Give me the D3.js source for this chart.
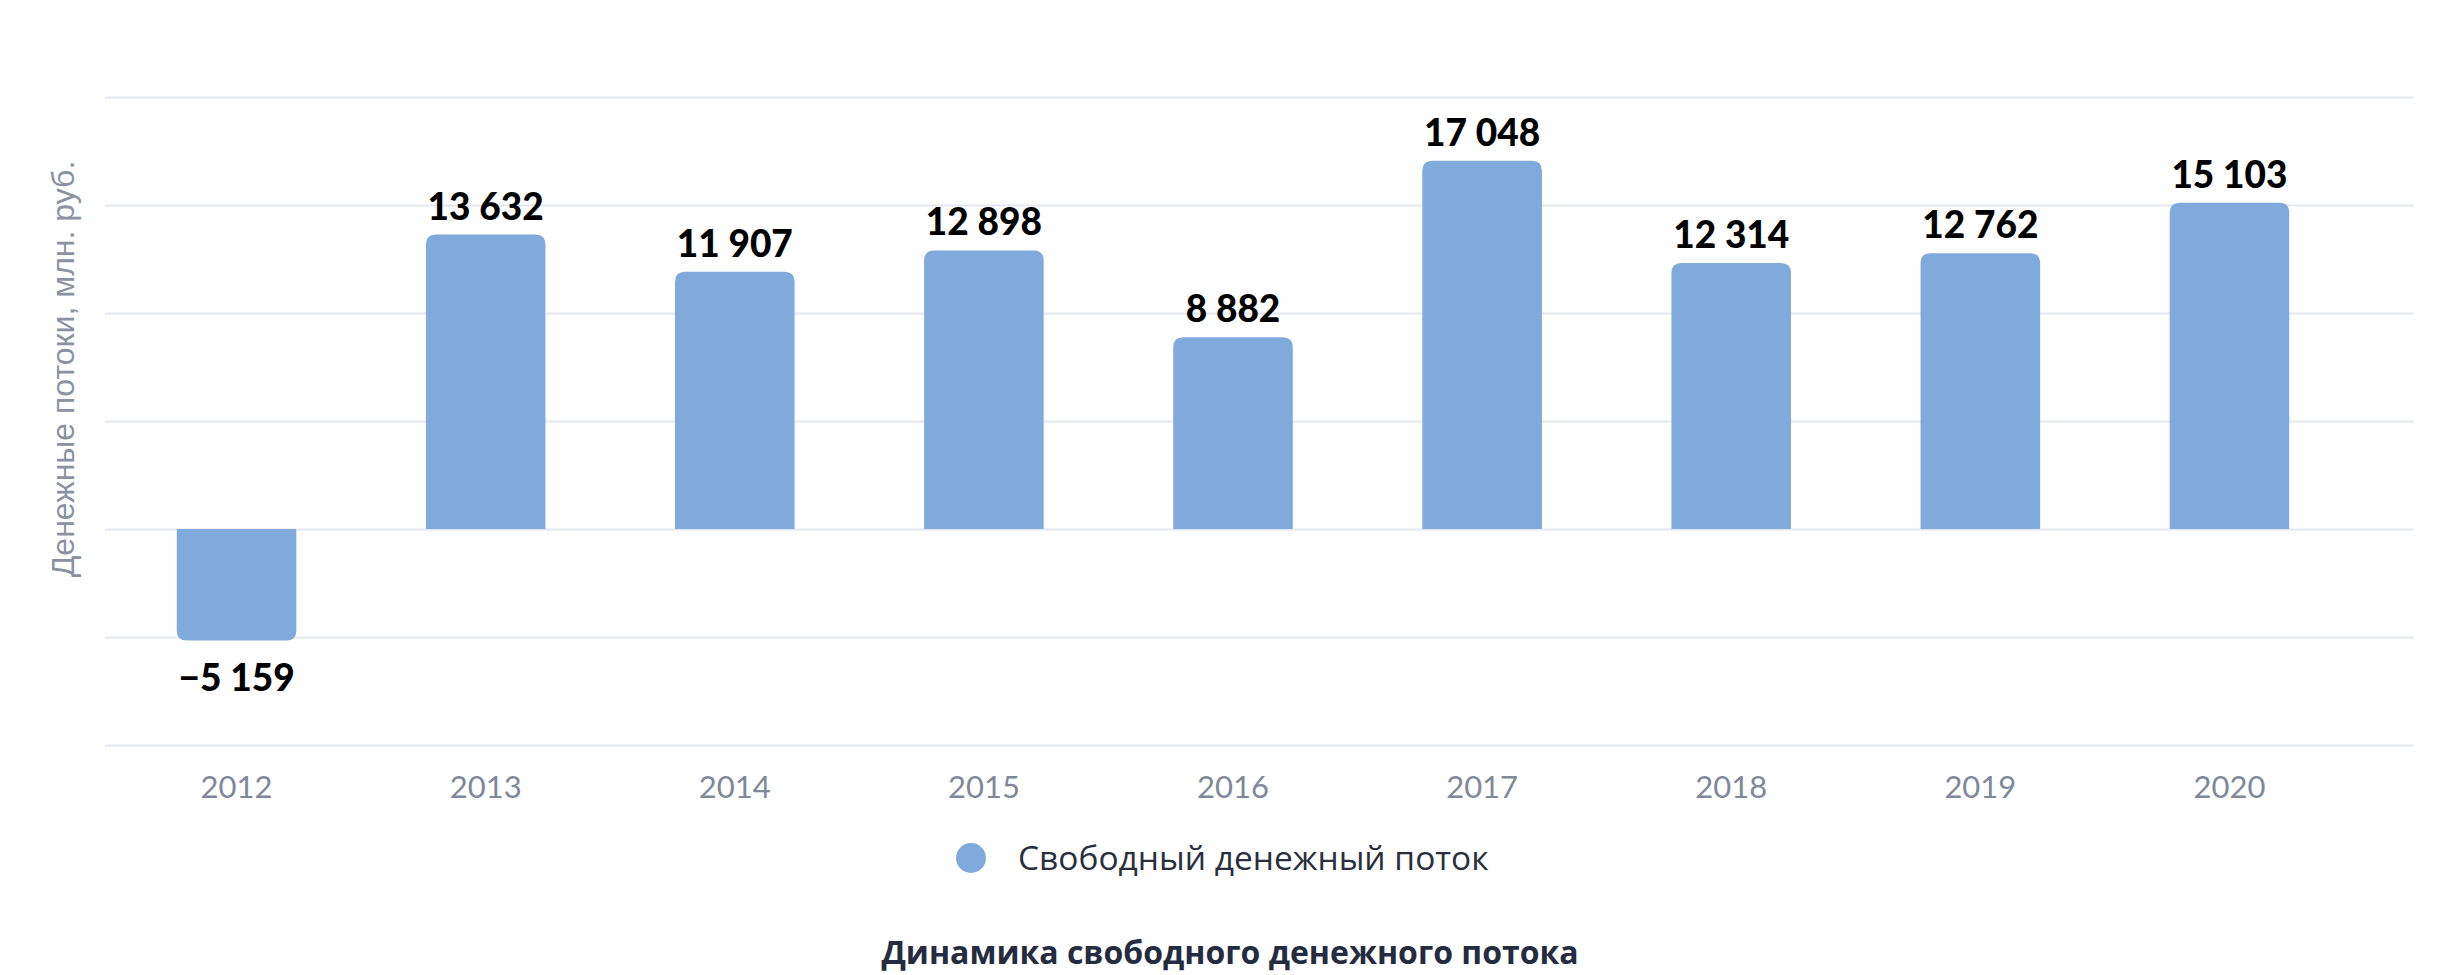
<!DOCTYPE html>
<html>
<head>
<meta charset="utf-8">
<script src="https://cdn.jsdelivr.net/npm/d3@7"></script>
<style>
  html, body { margin: 0; padding: 0; background: #fff; }
  svg { display: block; }
</style>
</head>
<body>
<div id="chart"></div>
<script>
// Data
var years = ["2012", "2013", "2014", "2015", "2016", "2017", "2018", "2019", "2020"];
var cashFlow = [-5159, 13632, 11907, 12898, 8882, 17048, 12314, 12762, 15103];
var gridTicks = [-10000, -5000, 0, 5000, 10000, 15000, 20000];
var seriesName = "Свободный денежный поток";
var yTitle = "Денежные потоки, млн. руб.";
var chartTitle = "Динамика свободного денежного потока";

var width = 2460, height = 975;
var barColor = "#80aadb";
var gridColor = "#e4e7ef";

var svg = d3.select("#chart").append("svg")
    .attr("width", width)
    .attr("height", height);

var x = d3.scaleBand()
    .domain(years)
    .range([112, 2354])
    .paddingInner(0.52)
    .paddingOuter(0.26);

var y = d3.scaleLinear()
    .domain([-10000, 20000])
    .range([745, 97]);

// grid lines
svg.append("g")
    .selectAll("line")
    .data(gridTicks)
  .enter().append("line")
    .attr("x1", 105)
    .attr("x2", 2414)
    .attr("y1", function(d){ return Math.round(y(d)) + 0.5; })
    .attr("y2", function(d){ return Math.round(y(d)) + 0.5; })
    .attr("stroke", gridColor)
    .attr("stroke-width", 2);

// bars with rounded outer end
var r = 10;
function barPath(d, i){
  var x0 = x(years[i]), w = x.bandwidth();
  var y0 = y(0), y1 = y(d);
  var s = d >= 0 ? 1 : -1;
  return "M" + x0 + "," + y0 +
    "V" + (y1 + s * r) +
    "Q" + x0 + "," + y1 + " " + (x0 + r) + "," + y1 +
    "H" + (x0 + w - r) +
    "Q" + (x0 + w) + "," + y1 + " " + (x0 + w) + "," + (y1 + s * r) +
    "V" + y0 + "Z";
}

svg.append("g")
    .selectAll("path")
    .data(cashFlow)
  .enter().append("path")
    .attr("d", barPath)
    .attr("fill", barColor);

// value labels
var fmt = function(v){
  var s = d3.format(",")(Math.abs(v)).replace(/,/g, " ");
  return (v < 0 ? "\u2212" : "") + s;
};

svg.append("g")
    .selectAll("text")
    .data(cashFlow)
  .enter().append("text")
    .attr("x", function(d, i){ return x(years[i]) + x.bandwidth() / 2; })
    .attr("y", function(d){ return d >= 0 ? y(d) - 15 : y(d) + 51; })
    .attr("text-anchor", "middle")
    .style("font-family", "Lato, 'Open Sans', sans-serif")
    .style("font-weight", "900")
    .style("font-size", "37px")
    .style("fill", "#000")
    .text(fmt);

// x axis labels
var xAxis = d3.axisBottom(x).tickSize(0).tickPadding(0);
var gx = svg.append("g")
    .attr("transform", "translate(0,798)")
    .call(xAxis);
gx.select(".domain").remove();
gx.selectAll("text")
    .attr("dy", 0)
    .style("font-family", "Lato, 'Open Sans', sans-serif")
    .style("font-size", "31px")
    .style("fill", "#7f8898");

// y axis title
svg.append("text")
    .attr("transform", "translate(74,369) rotate(-90)")
    .attr("text-anchor", "middle")
    .style("font-family", "'Liberation Sans', Arial, sans-serif")
    .style("font-size", "32px")
    .style("fill", "#8a929f")
    .text(yTitle);

// legend
var legend = svg.append("g").attr("transform", "translate(971,858)");
legend.append("circle")
    .attr("r", 15)
    .attr("fill", barColor);
legend.append("text")
    .attr("x", 47)
    .attr("y", 12)
    .style("font-family", "'Open Sans', sans-serif")
    .style("font-size", "33.5px")
    .style("fill", "#2a2f3e")
    .text(seriesName);

// title
svg.append("text")
    .attr("x", 1230)
    .attr("y", 964)
    .attr("text-anchor", "middle")
    .style("font-family", "'Open Sans', sans-serif")
    .style("font-weight", "bold")
    .style("font-size", "32px")
    .style("fill", "#252c3f")
    .text(chartTitle);
</script>
</body>
</html>
